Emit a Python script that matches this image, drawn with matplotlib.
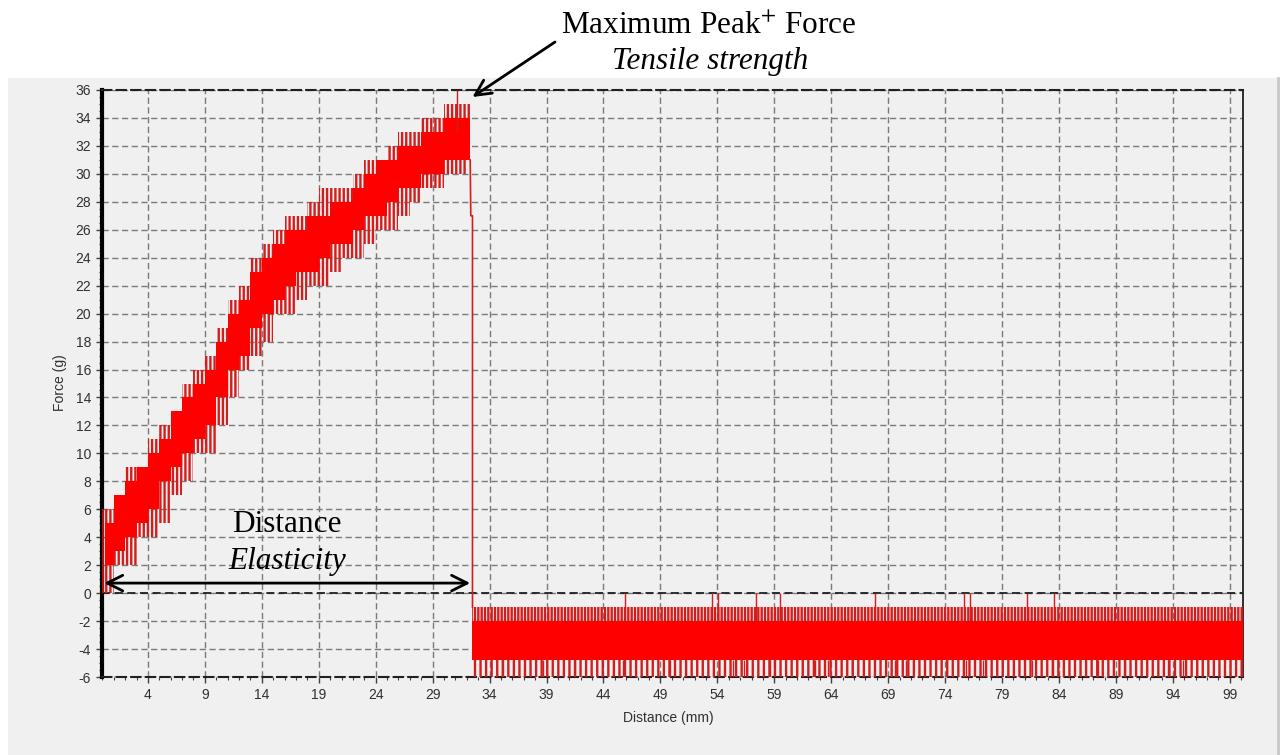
import numpy as np
import matplotlib.pyplot as plt
from matplotlib.patches import Rectangle
from matplotlib.lines import Line2D
from matplotlib.ticker import FixedLocator, MultipleLocator

plt.rcParams['mathtext.fontset'] = 'stix'
plt.rcParams['axes.unicode_minus'] = False
plt.rcParams['hatch.linewidth'] = 1.7
plt.rcParams['hatch.color'] = '#e01010'

# loading part, band read every 1 mm (g)
rise_x = [0.2] + list(range(1, 33)) + [32.3]
core_lo = [2, 3, 4, 5, 6, 8, 9, 10, 11, 12, 14, 16, 17, 19, 20, 21, 22, 23, 23, 24,
           25, 25, 26, 27, 27, 28, 29, 29, 30, 30, 31, 31, 31, 31]
core_hi = [5, 7, 8, 9, 10, 11, 13, 14, 15, 16, 18, 20, 21, 23, 24, 25, 26, 26, 27, 27,
           28, 28, 29, 30, 31, 31, 32, 32, 33, 33, 34, 34, 34, 34]
fringe_lo = [0, 2, 2, 4, 4, 5, 7, 8, 10, 10, 12, 14, 16, 17, 18, 20, 20, 21, 22, 22,
             23, 24, 24, 25, 26, 26, 27, 28, 29, 29, 30, 30, 31, 31]
fringe_hi = [6, 7, 9, 9, 11, 12, 13, 15, 16, 17, 19, 21, 22, 24, 25, 26, 27, 27, 28, 29,
             29, 29, 30, 31, 31, 32, 33, 33, 34, 34, 35, 35, 35, 35]

# peak and break
peak_x, peak_lo, peak_hi = 31.1, 33, 36
drop_x = [32.3, 32.35, 32.5, 32.5]
drop_y = [31, 27, 27, -1]

# after break
flat_x = [32.5, 100.15]
flat_core = (-4.8, -2)
flat_top = (-2, -1)
flat_bottom = (-6, -4.8)
spikes_up_x = [45.9, 53.5, 54.1, 57.4, 59.5, 67.8, 75.7, 76.2, 81.2, 83.6]
spikes_down_x = [35.2, 38.7, 41.5, 45.7, 49.8, 55.4, 56.3, 58.6, 62.6, 63.7, 65.8,
                 69.6, 70.6, 75.8, 77.3, 81.6, 83.5, 87.4, 89.8, 93.6, 94.9]

fig = plt.figure(figsize=(12.81, 7.55), dpi=100)
fig.patches.append(Rectangle((8 / 1281, 0), 1269 / 1281, 677 / 755, transform=fig.transFigure,
                             fc='#f0f0f0', ec='none', zorder=-5))
fig.lines.append(Line2D([1278 / 1281] * 2, [0, 677 / 755], transform=fig.transFigure,
                        color='#c8c8c8', lw=2, zorder=-4))

ax = fig.add_axes([0.0799, 0.1033, 0.8904, 0.7775])
ax.set_facecolor('#f0f0f0')
red = '#ff0000'
dark = '#d41c1c'

ax.fill_between(rise_x, core_lo, core_hi, step='post', color=red, lw=0, zorder=3)
ax.fill_between(rise_x, fringe_lo, core_lo, step='post', facecolor='none', edgecolor=dark,
                hatch='||||', lw=0, zorder=3)
ax.fill_between(rise_x, core_hi, fringe_hi, step='post', facecolor='none', edgecolor=dark,
                hatch='||||', lw=0, zorder=3)
ax.vlines([0.1], 0, 6, color='#b01010', lw=1.5, zorder=3)
ax.vlines([peak_x], peak_lo, peak_hi, color=dark, lw=1, zorder=3)
ax.plot(drop_x, drop_y, color=dark, lw=1.2, zorder=3)

ax.fill_between(flat_x, *flat_core, color=red, lw=0, zorder=3)
ax.fill_between(flat_x, *flat_top, facecolor='none', edgecolor=dark, hatch='|||||', lw=0, zorder=3)
ax.fill_between(flat_x, *flat_bottom, facecolor='none', edgecolor=dark, hatch='|||', lw=0, zorder=3)
ax.vlines(spikes_up_x, flat_top[0], 0, color=dark, lw=1, zorder=3)
ax.vlines(spikes_down_x, -6, flat_core[0], color=dark, lw=1, zorder=3)

ax.set_xlim(0, 100.15)
ax.set_ylim(-6, 36)
ax.xaxis.set_major_locator(FixedLocator(range(4, 100, 5)))
ax.xaxis.set_minor_locator(MultipleLocator(1))
ax.yaxis.set_major_locator(MultipleLocator(2))
ax.yaxis.set_minor_locator(MultipleLocator(0.5))
ax.tick_params(which='major', length=4, width=1, color='#404040', labelsize=10,
               labelcolor='#303030', pad=4)
ax.tick_params(which='minor', length=2.5, width=0.8, color='#404040')
for lab in ax.get_xticklabels() + ax.get_yticklabels():
    lab.set_family('Liberation Sans')

ax.grid(True, which='major', color='#7a7a7a', lw=1, linestyle=(0, (4.5, 2.5)), zorder=1)
ax.axhline(0, color='#202020', lw=1.3, linestyle=(0, (4.5, 2.5)), zorder=2)

for s in ['top', 'bottom']:
    ax.spines[s].set_linestyle((0, (4.5, 2.5)))
    ax.spines[s].set_color('#202020')
    ax.spines[s].set_linewidth(1.5)
ax.spines['left'].set_linewidth(3)
ax.spines['left'].set_color('black')
ax.spines['right'].set_linewidth(1.3)
ax.spines['right'].set_color('#202020')

fig.text(668 / 1281, 1 - 718 / 755, 'Distance (mm)', ha='center', va='center',
         fontsize=10, family='Liberation Sans', color='#303030')
fig.text(60 / 1281, 1 - 383 / 755, 'Force (g)', ha='center', va='center', rotation=90,
         fontsize=10, family='Liberation Sans', color='#303030')

# annotations
ax.annotate('', xy=(0.15, 0.72), xytext=(32.3, 0.72),
            arrowprops=dict(arrowstyle='<->', lw=2, color='black', mutation_scale=28,
                            shrinkA=0, shrinkB=0), zorder=5)
ax.annotate('', xy=(32.5, 35.5), xytext=(555, 755 - 42), textcoords='figure pixels',
            arrowprops=dict(arrowstyle='->', lw=2, color='black', mutation_scale=28,
                            shrinkA=0, shrinkB=0), annotation_clip=False, zorder=5)
ax.text(16.2, 4.9, 'Distance', ha='center', va='center', fontsize=22.5,
        family='Liberation Serif', zorder=5)
ax.text(16.2, 2.3, 'Elasticity', ha='center', va='center', fontsize=22.5,
        family='Liberation Serif', style='italic', zorder=5)
fig.text(709 / 1281, 1 - 27 / 755, 'Maximum Peak$^{+}$ Force', ha='center', va='center',
         fontsize=22.5, family='Liberation Serif')
fig.text(710 / 1281, 1 - 62 / 755, 'Tensile strength', ha='center', va='center',
         fontsize=22.5, family='Liberation Serif', style='italic')

fig.savefig('out.png', dpi=100, facecolor='white')
